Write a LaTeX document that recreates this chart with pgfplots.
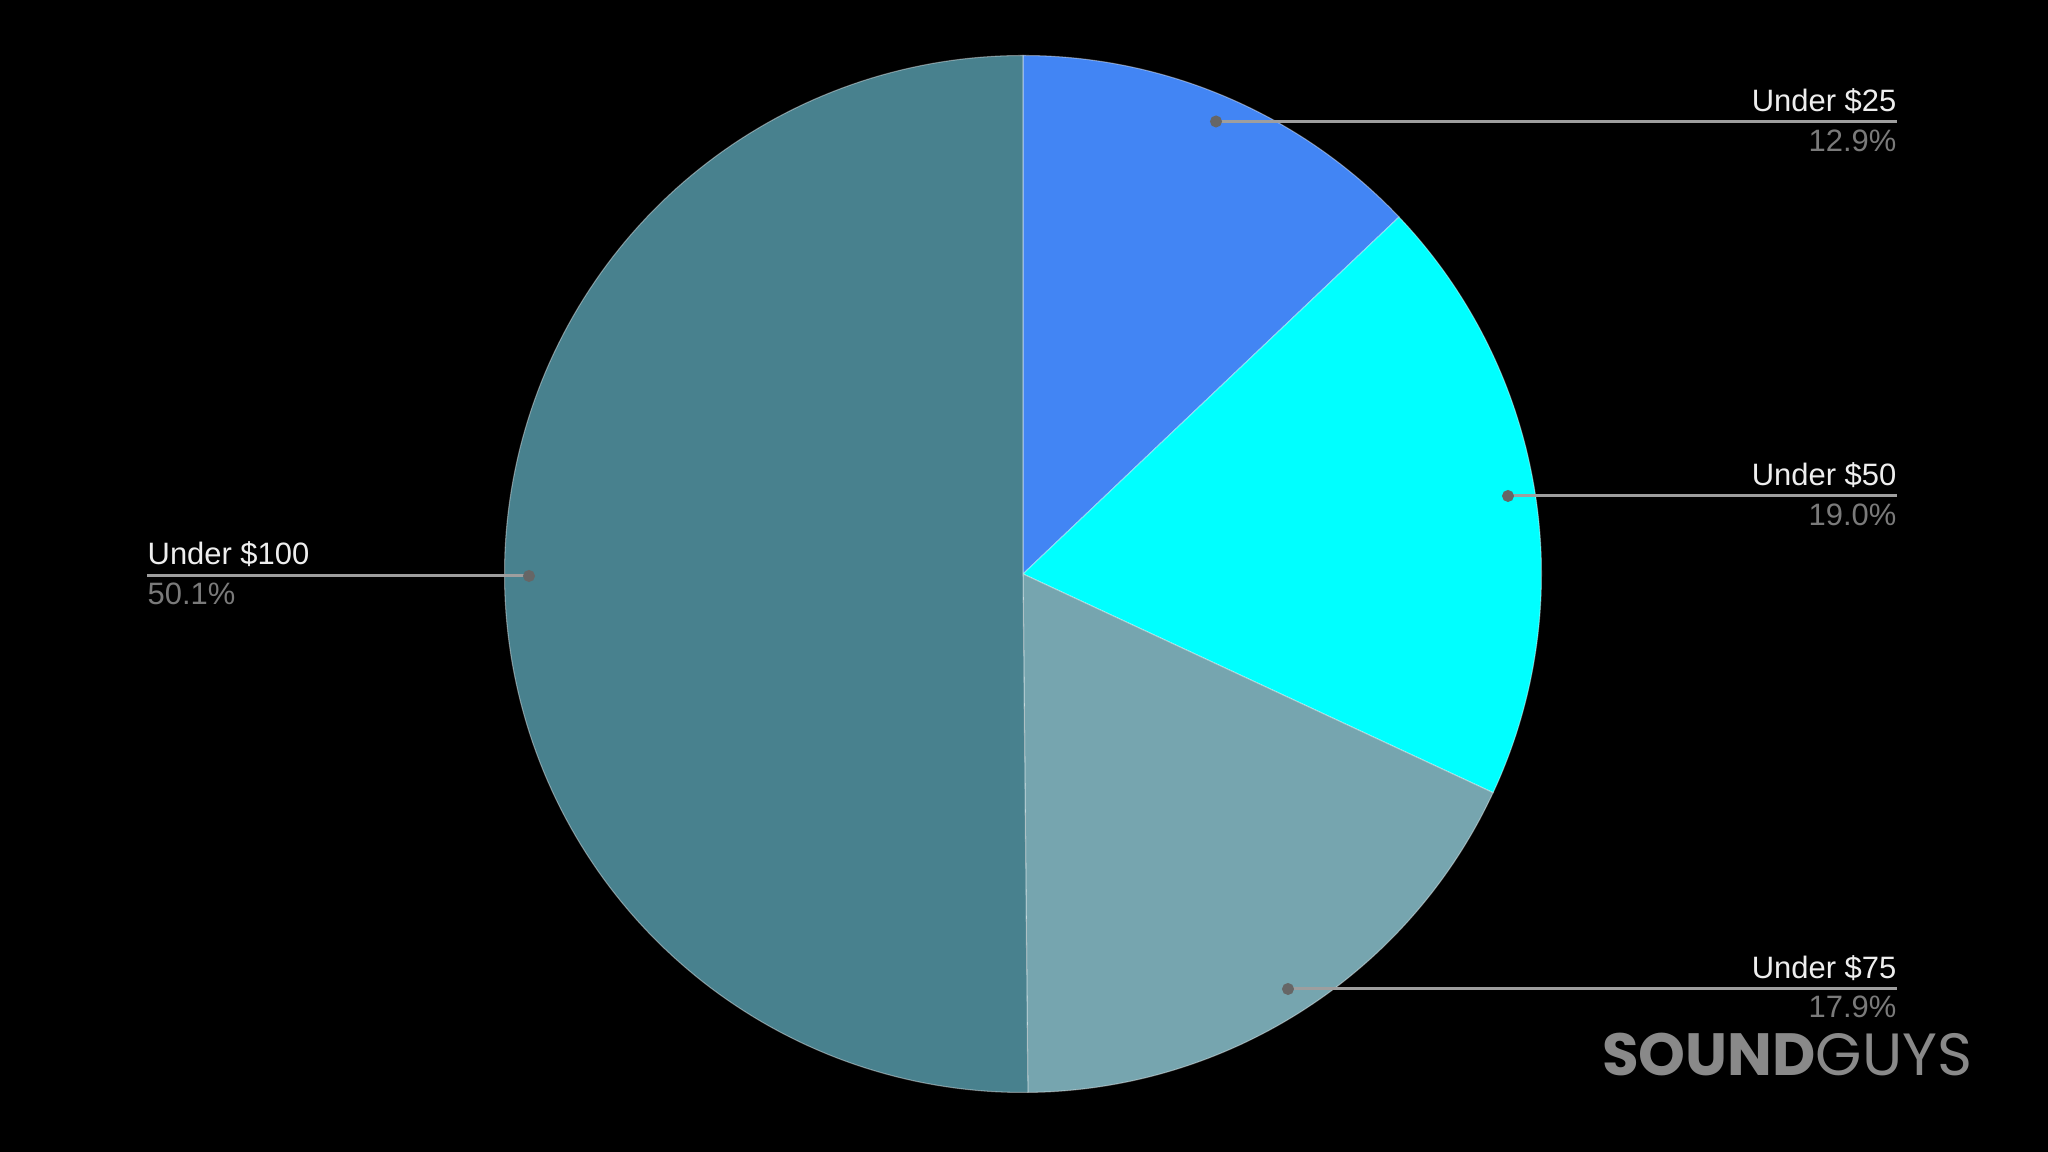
\documentclass[border=0pt]{standalone}
\usepackage{pgfplots}
\pgfplotsset{compat=1.18}
\usepackage{graphicx}
\usepackage{fontspec}
\setmainfont{Liberation Sans}
\newfontfamily\wmfont{Poppins}
\definecolor{c25}{HTML}{4285F4}
\definecolor{c50}{HTML}{00FFFF}
\definecolor{c75}{HTML}{76A5AF}
\definecolor{c100}{HTML}{48818E}
\definecolor{lbl}{HTML}{EEEEEE}
\definecolor{pct}{HTML}{7A7A7A}
\definecolor{lead}{HTML}{9E9E9E}
\definecolor{dotc}{HTML}{666666}
\definecolor{wm}{HTML}{898989}
\newcommand{\lf}{\fontsize{8.8}{10}\selectfont}
\begin{document}
\begin{tikzpicture}
\fill[black] (0,0) rectangle (20.48cm,11.52cm);
\begin{axis}[at={(0,0)}, anchor=south west, scale only axis,
  width=20.48cm, height=11.52cm,
  xmin=-1023, xmax=1025, ymin=-578, ymax=574,
  hide axis, clip=false]
% shares (percent): Under $25 12.9, Under $50 19.0, Under $75 17.9, Under $100 50.1 (total 99.9)
% clockwise from 90 deg; angle = 90 - 360*cumulative/99.9
\addplot[fill=c25, draw=white, draw opacity=0.4, line width=0.3pt, data cs=polar, domain=43.51:90, samples=80] {518.5} -- (axis cs:0,0) -- cycle;
\addplot[fill=c50, draw=white, draw opacity=0.4, line width=0.3pt, data cs=polar, domain=-24.95:43.51, samples=80] {518.5} -- (axis cs:0,0) -- cycle;
\addplot[fill=c75, draw=white, draw opacity=0.4, line width=0.3pt, data cs=polar, domain=-89.46:-24.95, samples=80] {518.5} -- (axis cs:0,0) -- cycle;
\addplot[fill=c100, draw=white, draw opacity=0.4, line width=0.3pt, data cs=polar, domain=-270:-89.46, samples=160] {518.5} -- (axis cs:0,0) -- cycle;
% leader lines
\addplot[lead, line width=0.85pt] coordinates {(193,452.5) (874,452.5)};
\addplot[lead, line width=0.85pt] coordinates {(485,78) (874,78)};
\addplot[lead, line width=0.85pt] coordinates {(265,-415) (874,-415)};
\addplot[lead, line width=0.85pt] coordinates {(-876,-2) (-494,-2)};
\addplot[only marks, mark=*, mark size=1.5pt, dotc] coordinates {(193,452.5) (485,78) (265,-415) (-494,-2)};
% labels
\node[anchor=base east, inner sep=0, text=lbl] at (axis cs:874,462.5) {\lf Under \$25};
\node[anchor=base east, inner sep=0, text=pct] at (axis cs:874,422.5) {\lf 12.9\%};
\node[anchor=base east, inner sep=0, text=lbl] at (axis cs:874,88) {\lf Under \$50};
\node[anchor=base east, inner sep=0, text=pct] at (axis cs:874,48) {\lf 19.0\%};
\node[anchor=base east, inner sep=0, text=lbl] at (axis cs:874,-405) {\lf Under \$75};
\node[anchor=base east, inner sep=0, text=pct] at (axis cs:874,-444) {\lf 17.9\%};
\node[anchor=base west, inner sep=0, text=lbl] at (axis cs:-876,9) {\lf Under \$100};
\node[anchor=base west, inner sep=0, text=pct] at (axis cs:-876,-31) {\lf 50.1\%};
% watermark
\node[anchor=north east, inner sep=0, text=wm] at (axis cs:950,-458) {\resizebox{37mm}{!}{\wmfont\bfseries SOUND\mdseries GUYS}};
\end{axis}
\end{tikzpicture}
\end{document}
